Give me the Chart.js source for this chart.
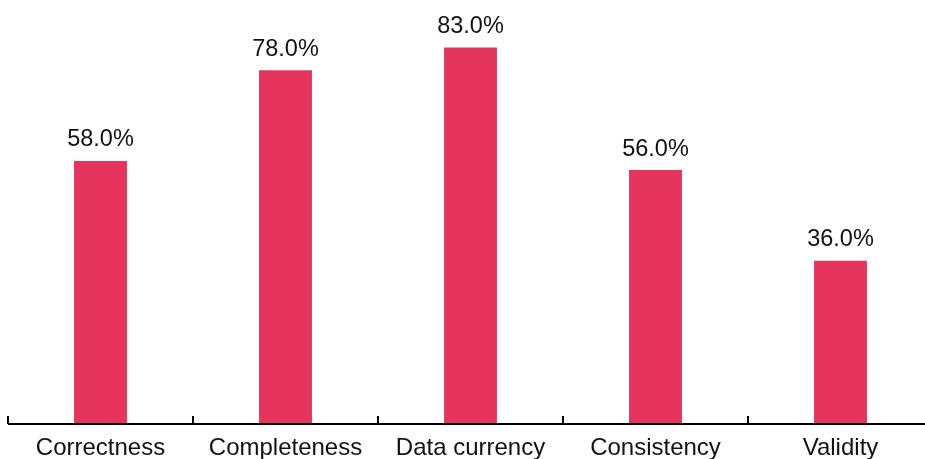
<!DOCTYPE html>
<html>
<head>
<meta charset="utf-8">
<script src="https://cdn.jsdelivr.net/npm/chart.js@4/dist/chart.umd.min.js"></script>
<style>
  html, body { margin: 0; padding: 0; background: #fff; overflow: hidden; }
  #wrap { width: 933px; height: 459px; position: relative; }
</style>
</head>
<body>
<div id="wrap"><canvas id="qualityChart"></canvas></div>
<script>
const categories = ["Correctness", "Completeness", "Data currency", "Consistency", "Validity"];
const scores = [58, 78, 83, 56, 36];
const barColor = "#E6355C";
const fontFamily = "'Liberation Sans', Arial, sans-serif";

// axis line, inward tick marks at category boundaries, category names
const axisPlugin = {
  id: "axisPlugin",
  afterDatasetsDraw(chart) {
    const { ctx, scales: { x }, chartArea } = chart;
    const y = Math.round(chartArea.bottom);
    ctx.save();
    ctx.strokeStyle = "#000";
    ctx.lineWidth = 2;
    ctx.beginPath();
    ctx.moveTo(x.getPixelForValue(-0.5), y);
    ctx.lineTo(chartArea.right, y);
    for (let i = 0; i < categories.length; i++) {
      const px = Math.round(x.getPixelForValue(i - 0.5));
      ctx.moveTo(px, y);
      ctx.lineTo(px, y - 8);
    }
    ctx.stroke();

    ctx.font = "24px " + fontFamily;
    ctx.fillStyle = "#111";
    ctx.textAlign = "center";
    ctx.textBaseline = "middle";
    categories.forEach((c, i) => {
      ctx.fillText(c, x.getPixelForValue(i), y + 24);
    });
    ctx.restore();
  }
};

// value labels above bars
const labelPlugin = {
  id: "labelPlugin",
  afterDatasetsDraw(chart) {
    const { ctx } = chart;
    const meta = chart.getDatasetMeta(0);
    ctx.save();
    ctx.font = "23.5px " + fontFamily;
    ctx.fillStyle = "#111";
    ctx.textAlign = "center";
    ctx.textBaseline = "middle";
    meta.data.forEach((bar, i) => {
      ctx.fillText(scores[i].toFixed(1) + "%", bar.x, bar.y - 21);
    });
    ctx.restore();
  }
};

new Chart(document.getElementById("qualityChart"), {
  type: "bar",
  data: {
    labels: categories,
    datasets: [{
      data: scores,
      backgroundColor: barColor,
      borderWidth: 0,
      categoryPercentage: 1,
      barPercentage: 0.286
    }]
  },
  options: {
    responsive: true,
    maintainAspectRatio: false,
    animation: false,
    layout: { padding: { left: 8, right: 0, top: 0, bottom: 35 } },
    plugins: { legend: { display: false }, tooltip: { enabled: false } },
    scales: {
      x: {
        display: false,
        offset: true
      },
      y: {
        display: false,
        min: 0,
        max: 93.5
      }
    }
  },
  plugins: [axisPlugin, labelPlugin]
});
</script>
</body>
</html>
